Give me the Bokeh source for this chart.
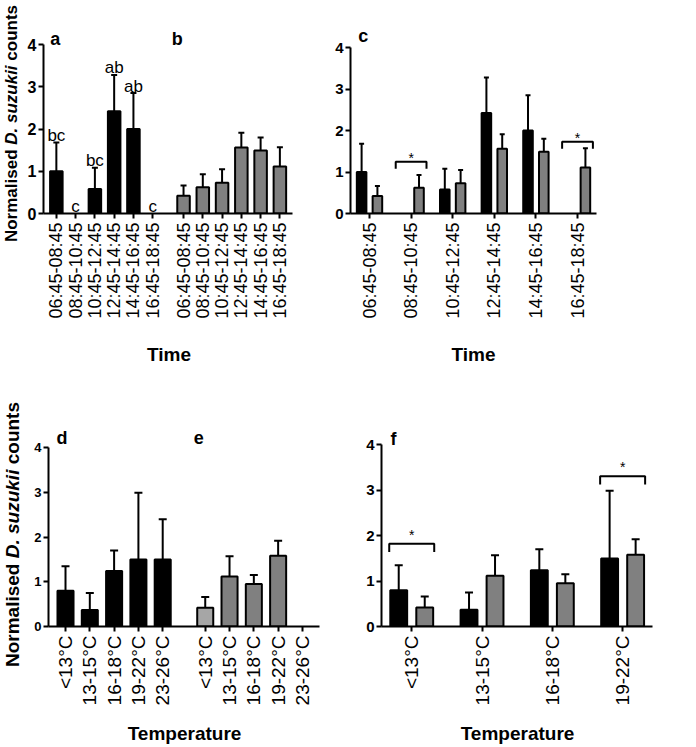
import math
from bokeh.plotting import figure
from bokeh.layouts import column, row
from bokeh.models import (Range1d, FixedTicker, Label, Legend, LegendItem,
                          ColumnDataSource, Whisker, TeeHead)
from bokeh.embed import file_html
from bokeh.resources import INLINE
from bokeh.core.properties import value

FONT = "Liberation Sans"
FIELD_COLOR = "#000000"
LAB_COLOR = "#808080"
LAB_LIGHT = "#a6a6a6"

# ---------------- data ----------------
time_slots = ["06:45-08:45", "08:45-10:45", "10:45-12:45",
              "12:45-14:45", "14:45-16:45", "16:45-18:45"]
field_time_mean = [1.00, 0.00, 0.58, 2.42, 2.00, 0.00]
field_time_upper = [1.68, 0.00, 1.08, 3.28, 2.85, 0.00]
field_time_letters = ["bc", "c", "bc", "ab", "ab", "c"]
lab_time_mean = [0.42, 0.62, 0.73, 1.56, 1.49, 1.11]
lab_time_upper = [0.66, 0.93, 1.05, 1.91, 1.80, 1.57]
time_significant = [False, True, False, False, False, True]

temp_bins = ["<13°C", "13-15°C", "16-18°C", "19-22°C", "23-26°C"]
field_temp_mean = [0.80, 0.37, 1.24, 1.50, 1.50]
field_temp_upper = [1.35, 0.75, 1.70, 2.99, 2.40]
lab_temp_mean = [0.42, 1.12, 0.95, 1.58, 0.00]
lab_temp_upper = [0.66, 1.57, 1.15, 1.92, 0.00]
temp_significant = [True, False, False, True]

series_names = ["Field", "Lab"]
y_title_parts = ["Normalised", "D. suzukii", "counts"]


def make_fig(width, height, bl, br, bt, bb, x_start, x_ppu, y_ppu, x_end_axis,
             ticks, labels, ytick_px, xtick_px, xtitle, standoff):
    fw = width - bl - br
    fh = height - bt - bb
    p = figure(width=width, height=height, output_backend="svg",
               toolbar_location=None, tools="",
               x_range=Range1d(x_start, x_start + fw / x_ppu),
               y_range=Range1d(0, fh / y_ppu),
               min_border_left=bl, min_border_right=br,
               min_border_top=bt, min_border_bottom=bb)
    p.outline_line_color = None
    p.xgrid.visible = False
    p.ygrid.visible = False
    p.background_fill_color = "white"
    p.border_fill_color = "white"
    for ax in (p.xaxis[0], p.yaxis[0]):
        ax.axis_line_width = 2
        ax.axis_line_color = "black"
        ax.major_tick_line_width = 2
        ax.major_tick_line_color = "black"
        ax.major_tick_out = 5
        ax.major_tick_in = 0
        ax.minor_tick_line_color = None
        ax.major_label_text_font = FONT
        ax.major_label_text_color = "black"
    ya = p.yaxis[0]
    ya.bounds = (0, 4)
    ya.ticker = FixedTicker(ticks=[0, 1, 2, 3, 4])
    ya.major_label_text_font_style = "bold"
    ya.major_label_text_font_size = f"{ytick_px}px"
    ya.major_label_standoff = 2
    xa = p.xaxis[0]
    xa.bounds = (x_start, x_end_axis)
    xa.ticker = FixedTicker(ticks=ticks)
    xa.major_label_overrides = dict(zip(ticks, labels))
    xa.major_label_orientation = math.pi / 2
    xa.major_label_text_font_size = f"{xtick_px}px"
    xa.major_label_standoff = 4
    xa.axis_label = xtitle
    xa.axis_label_text_font = FONT
    xa.axis_label_text_font_style = "bold"
    xa.axis_label_text_font_size = "19px"
    xa.axis_label_text_color = "black"
    xa.axis_label_standoff = standoff
    return p


def blank_fig(width, height):
    p = figure(width=width, height=height, output_backend="svg",
               toolbar_location=None, tools="",
               x_range=Range1d(0, width), y_range=Range1d(0, height),
               x_axis_type=None, y_axis_type=None,
               min_border_left=0, min_border_right=0,
               min_border_top=0, min_border_bottom=0)
    p.outline_line_color = None
    p.grid.visible = False
    p.background_fill_color = "white"
    p.border_fill_color = "white"
    return p


def add_bars(p, xs, tops, uppers, width, colors, cap):
    keep = [i for i in range(len(xs)) if tops[i] > 0]
    src = ColumnDataSource(dict(
        x=[xs[i] for i in keep],
        top=[tops[i] for i in keep],
        upper=[uppers[i] for i in keep],
        color=[colors[i] for i in keep]))
    r = p.vbar(x="x", top="top", bottom=0, width=width, fill_color="color",
               line_color="black", line_width=2, source=src)
    w = Whisker(source=src, base="x", lower="top", upper="upper",
                dimension="height", line_color="black", line_width=2,
                upper_head=TeeHead(size=cap, line_width=2, line_color="black"),
                lower_head=None)
    p.add_layout(w)
    return r


def add_text(p, text, sx, sy, frame, size=18):
    # sx, sy: page pixels; frame: page pixels of the frame's left and bottom
    frame_left, frame_bottom = frame
    p.add_layout(Label(x=sx - frame_left, y=frame_bottom - sy,
                       x_units="screen", y_units="screen", text=text,
                       text_font=FONT, text_font_style="bold",
                       text_font_size=f"{size}px", text_color="black",
                       text_baseline="alphabetic", text_align="left"))


def add_ytitle(p, page_h, center_x, center_y, size):
    widths = [5.724, 4.668, 3.556]          # advance widths in em (Arial bold)
    styles = ["bold", "bold italic", "bold"]
    total = sum(widths) * size
    y = (page_h - center_y) - total / 2
    for i, text in enumerate(y_title_parts):
        start = y + (0.278 * size if i == 2 else 0)
        p.text(x=[center_x], y=[start], text=[text], angle=math.pi / 2,
               text_font=value(FONT), text_font_style=styles[i],
               text_font_size=f"{size}px", text_color="black",
               text_align="left", text_baseline="middle")
        y += widths[i] * size


def add_brackets(p, xs, levels, half, drop, star_offset):
    bx, by, sx_, sy_ = [], [], [], []
    for i, lvl in levels.items():
        x = xs[i]
        bx.append([x - half, x - half, x + half, x + half])
        by.append([lvl - drop, lvl, lvl, lvl - drop])
        sx_.append(x)
        sy_.append(lvl)
    p.multi_line(xs=bx, ys=by, line_color="black", line_width=2)
    p.text(x=sx_, y=sy_, text=["*"] * len(sx_), text_font=value(FONT),
           text_font_size="14px", text_align="center",
           text_baseline="alphabetic", y_offset=star_offset, text_color="black")


# ---------------- y titles (one tall strip on the left) ----------------
yt = blank_fig(24, 747)
add_ytitle(yt, 747, 11, 123, 17)
add_ytitle(yt, 747, 12, 534, 19)

# ---------------- panel a + b (top left) ----------------
TL_FRAME = (40, 213)
a_x = [float(i) for i in range(6)]
b_x = [round(6.6 + i, 2) for i in range(6)]
tl = make_fig(296, 380, 16, 26, 10, 167, -0.667, 19.5, 42.25, 12.27,
              a_x + b_x, time_slots + time_slots, 16, 18, "Time", 22)
add_bars(tl, a_x, field_time_mean, field_time_upper, 0.65, [FIELD_COLOR] * 6, 6)
add_bars(tl, b_x, lab_time_mean, lab_time_upper, 0.65, [LAB_COLOR] * 6, 6)
tl.text(x=a_x, y=field_time_upper, text=field_time_letters, text_font=value(FONT),
        text_font_size="17px", text_align="center", text_baseline="alphabetic",
        y_offset=-7, text_color="black")
add_text(tl, "a", 46.7, 38.3, TL_FRAME)
add_text(tl, "b", 168.3, 38.3, TL_FRAME)

# ---------------- panel c (top right) ----------------
TR_FRAME = (350, 216)
c_x = [float(i) for i in range(6)]
tr = make_fig(290, 380, 30, 14, 10, 164, -0.457, 41.6, 42.1, 5.457,
              c_x, time_slots, 15, 18, "Time", 22)
add_bars(tr, [x - 0.19 for x in c_x], field_time_mean, field_time_upper,
         0.23, [FIELD_COLOR] * 6, 5)
add_bars(tr, [x + 0.19 for x in c_x], lab_time_mean, lab_time_upper,
         0.23, [LAB_COLOR] * 6, 5)
c_levels = {1: 1.25, 5: 1.73}
add_brackets(tr, c_x, {i: c_levels[i] for i, s in enumerate(time_significant) if s},
             0.37, 0.17, -4)
add_text(tr, "c", 357.7, 38.3, TR_FRAME)

# ---------------- legend (top right corner) ----------------
leg = blank_fig(86, 380)
swatch_field = leg.vbar(x=[], top=[], width=1, fill_color=FIELD_COLOR,
                        line_color="black", line_width=2)
swatch_lab = leg.vbar(x=[], top=[], width=1, fill_color=LAB_COLOR,
                      line_color="black", line_width=2)
legend = Legend(items=[LegendItem(label=series_names[0], renderers=[swatch_field]),
                       LegendItem(label=series_names[1], renderers=[swatch_lab])],
                location=(23, 380 - 165), glyph_width=17, glyph_height=12,
                label_text_font=FONT, label_text_font_size="17px",
                label_text_color="black", label_standoff=9, spacing=8,
                padding=0, margin=0, border_line_color=None,
                background_fill_alpha=0, label_height=20)
leg.add_layout(legend)

# ---------------- panel d + e (bottom left) ----------------
BL_FRAME = (48, 627)
d_x = [float(i) for i in range(5)]
e_x = [round(5.75 + i, 2) for i in range(5)]
bl = make_fig(296, 367, 24, 0, 10, 120, -0.70, 24.3, 44.9, 10.45,
              d_x + e_x, temp_bins + temp_bins, 13, 19, "Temperature", 15)
add_bars(bl, d_x, field_temp_mean, field_temp_upper, 0.66, [FIELD_COLOR] * 5, 8)
add_bars(bl, e_x, lab_temp_mean, lab_temp_upper, 0.66,
         [LAB_LIGHT] + [LAB_COLOR] * 4, 8)
add_text(bl, "d", 56, 438.3, BL_FRAME)
add_text(bl, "e", 193.3, 438.3, BL_FRAME)

# ---------------- panel f (bottom right) ----------------
BR_FRAME = (381, 626)
f_x = [float(i) for i in range(4)]
br = make_fig(376, 367, 61, 43, 10, 121, -0.43, 70.3, 45.4, 3.43,
              f_x, temp_bins[:4], 15, 19, "Temperature", 15)
add_bars(br, [x - 0.185 for x in f_x], field_temp_mean[:4], field_temp_upper[:4],
         0.24, [FIELD_COLOR] * 4, 8)
add_bars(br, [x + 0.185 for x in f_x], lab_temp_mean[:4], lab_temp_upper[:4],
         0.24, [LAB_COLOR] * 4, 8)
f_levels = {0: 1.82, 3: 3.31}
add_brackets(br, f_x, {i: f_levels[i] for i, s in enumerate(temp_significant) if s},
             0.32, 0.18, -9)
add_text(br, "f", 390, 438.3, BR_FRAME)

layout = row(yt, column(row(tl, tr, leg), row(bl, br)))
open("out.html", "w").write(file_html(layout, INLINE, title="D. suzukii counts"))
